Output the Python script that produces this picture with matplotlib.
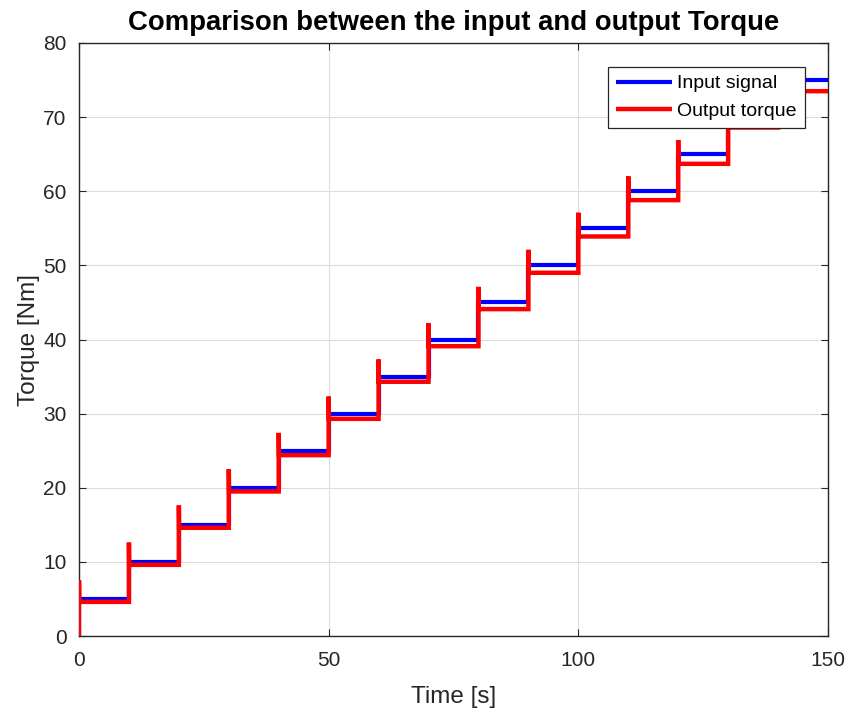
import matplotlib
matplotlib.use("Agg")
import matplotlib.pyplot as plt
import numpy as np

plt.rcParams['font.family'] = ['Liberation Sans', 'DejaVu Sans']

# Step instants and torque levels
step_times = [0, 10, 20, 30, 40, 50, 60, 70, 80, 90, 100, 110, 120, 130, 140]
input_levels = [5, 10, 15, 20, 25, 30, 35, 40, 45, 50, 55, 60, 65, 70, 75]
output_levels = [4.6, 9.6, 14.6, 19.5, 24.4, 29.3, 34.3, 39.1, 44.1, 49.0,
                 53.9, 58.8, 63.7, 68.6, 73.5]
output_peaks = [7.5, 12.6, 17.6, 22.5, 27.4, 32.3, 37.3, 42.2, 47.1, 52.1,
                57.1, 62.0, 66.9, 71.8, 76.5]
t_end = 150

# Input: ideal staircase
t_in = []
y_in = []
for t0, lvl in zip(step_times, input_levels):
    t_in += [t0, t0]
    y_in += [y_in[-1] if y_in else 0, lvl]
t_in.append(t_end)
y_in.append(input_levels[-1])

# Output: staircase with a short overshoot at each step
t_out = []
y_out = []
prev = 0.0
for t0, lvl, pk in zip(step_times, output_levels, output_peaks):
    t_out += [t0, t0, t0 + 0.05]
    y_out += [prev, pk, lvl]
    prev = lvl
t_out.append(t_end)
y_out.append(output_levels[-1])

fig = plt.figure(figsize=(8.48, 7.10), dpi=100)
ax = fig.add_axes([79 / 848, 1 - 636 / 710, (828 - 79) / 848, (636 - 43) / 710])

ax.plot(t_in, y_in, color='#0000ff', lw=3.0, label='Input signal', zorder=3,
        solid_capstyle='butt')
ax.plot(t_out, y_out, color='#ff0000', lw=3.2, label='Output torque', zorder=4,
        solid_capstyle='butt', solid_joinstyle='miter')

ax.set_xlim(0, 150)
ax.set_ylim(0, 80)
ax.set_xticks([0, 50, 100, 150])
ax.set_yticks(np.arange(0, 81, 10))

dark = '#262626'
ax.grid(True, color='#dcdcdc', lw=0.8)
ax.set_axisbelow(True)
for s in ax.spines.values():
    s.set_color(dark)
    s.set_linewidth(1.0)
ax.tick_params(direction='in', length=5, width=0.8, colors=dark,
               labelsize=15, top=True, right=True)
ax.tick_params(axis='x', pad=11)
ax.tick_params(axis='y', pad=9)

ax.set_xlabel('Time [s]', fontsize=17.5, color=dark, labelpad=11)
ax.set_ylabel('Torque [Nm]', fontsize=17.5, color=dark, labelpad=2)
ax.set_title('Comparison between the input and output Torque',
             fontsize=19.8, fontweight='bold', color='black', pad=9)

leg = ax.legend(loc='upper right', bbox_to_anchor=(0.969, 0.96),
                fontsize=14, frameon=True, fancybox=False,
                edgecolor=dark, framealpha=1, handlelength=2.9,
                handletextpad=0.25, borderpad=0.42, labelspacing=0.5,
                borderaxespad=0)
leg.get_frame().set_linewidth(0.9)
leg.set_zorder(10)

fig.savefig('out.png', dpi=100)
